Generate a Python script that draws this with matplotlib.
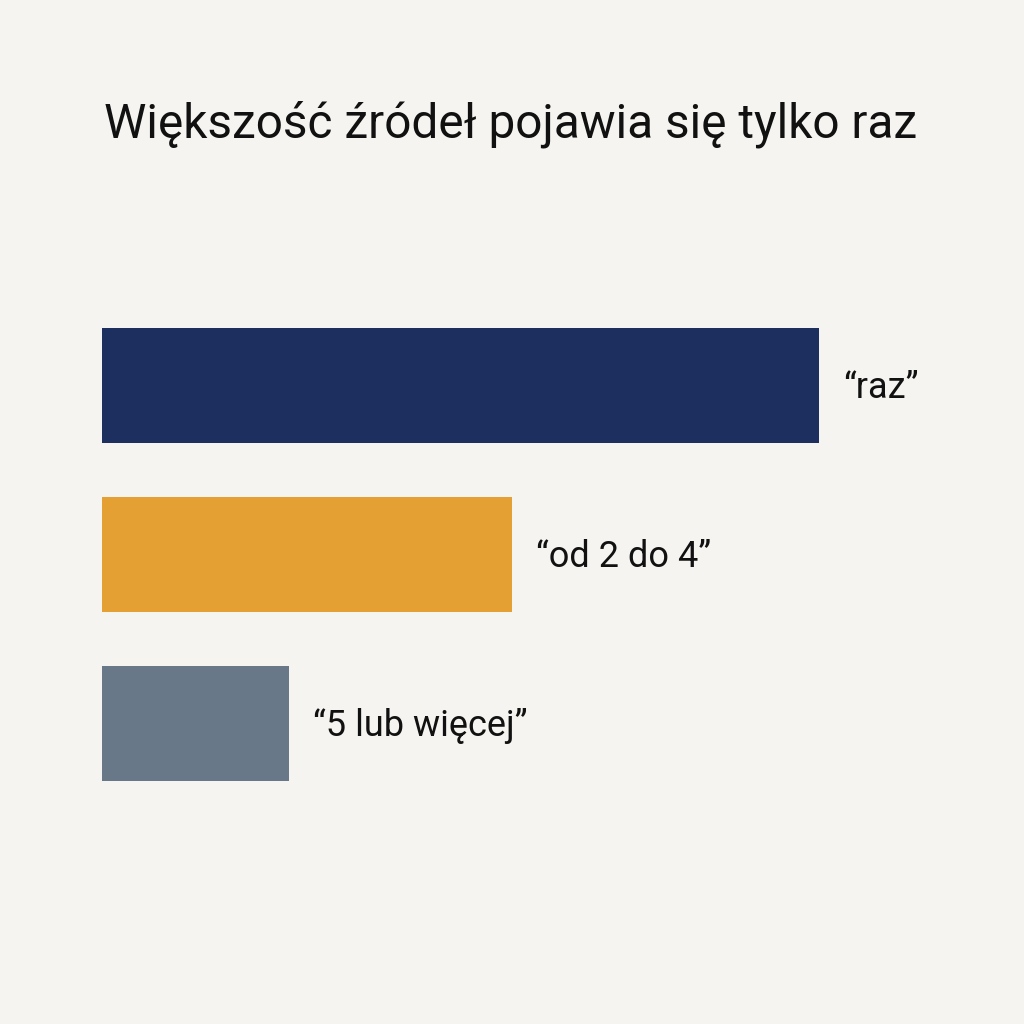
import matplotlib
matplotlib.use("Agg")
import matplotlib.pyplot as plt

title = "Większość źródeł pojawia się tylko raz"
categories = ["\u201craz\u201d", "\u201cod 2 do 4\u201d", "\u201c5 lub więcej\u201d"]
values = [717, 410, 187]
colors = ["#1C2F5F", "#E5A033", "#687889"]

bg = "#F5F4F0"
plt.rcParams['font.family'] = ['Roboto', 'DejaVu Sans']

fig = plt.figure(figsize=(10.24, 10.24), dpi=100, facecolor=bg)
W = H = 1024
ax = fig.add_axes([102 / W, 1 - 810 / H, 820 / W, 510 / H])
ax.set_facecolor(bg)
ypos = list(range(len(values)))
ax.barh(ypos, values, height=0.68, color=colors)
ax.set_xlim(0, 820)
ax.set_ylim(2.509, -0.506)
for y, v, lab in zip(ypos, values, categories):
    ax.annotate(lab, xy=(v, y), xytext=(24, -2.5), textcoords='offset pixels',
                va='center', ha='left', fontsize=26, color='#111111')
ax.axis('off')

fig.text(104 / W, 1 - 137 / H, title, fontsize=34.4, ha='left', va='baseline', color='#111111')

fig.savefig("out.png", dpi=100, facecolor=bg)
